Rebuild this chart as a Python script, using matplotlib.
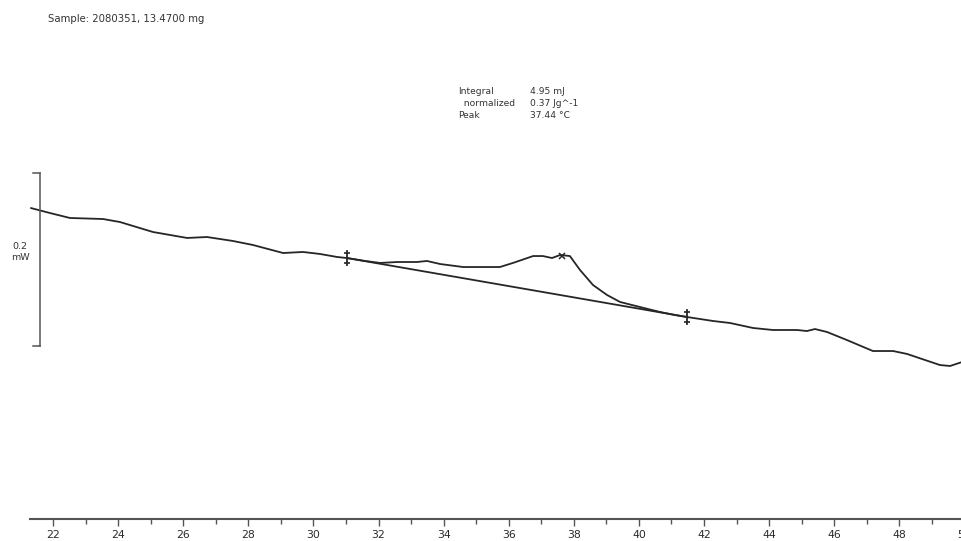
import matplotlib
matplotlib.use("Agg")
import matplotlib.pyplot as plt

# Heat-flow curve (temperature in degC, heat flow in mW, arbitrary offset)
temperature = [21.32, 21.91, 22.52, 23.54, 24.06, 25.07, 26.12, 26.73, 27.53, 28.14,
               29.07, 29.68, 30.20, 30.73, 31.03, 31.59, 32.05, 32.57, 33.18, 33.49,
               33.89, 34.60, 35.43, 35.73, 36.13, 36.75, 37.05, 37.33, 37.58, 37.88,
               38.19, 38.59, 39.02, 39.42, 40.03, 40.65, 41.11, 41.48, 42.28, 42.80,
               43.51, 44.12, 44.86, 45.16, 45.41, 45.78, 46.39, 47.19, 47.81, 48.24,
               48.79, 49.25, 49.56, 49.93]
heat_flow = [0.3595, 0.3537, 0.3480, 0.3468, 0.3433, 0.3318, 0.3249, 0.3260, 0.3214, 0.3168,
             0.3075, 0.3087, 0.3064, 0.3029, 0.3017, 0.2983, 0.2960, 0.2971, 0.2971, 0.2983,
             0.2948, 0.2913, 0.2913, 0.2913, 0.2960, 0.3040, 0.3040, 0.3017, 0.3052, 0.3040,
             0.2879, 0.2705, 0.2590, 0.2509, 0.2451, 0.2393, 0.2358, 0.2335, 0.2289, 0.2266,
             0.2208, 0.2185, 0.2185, 0.2173, 0.2196, 0.2162, 0.2069, 0.1942, 0.1942, 0.1908,
             0.1838, 0.1780, 0.1769, 0.1815]

# Integration limits and baseline
limit_temps = [31.03, 41.48]
limit_flows = [0.3017, 0.2335]
peak_temp = 37.65
peak_flow = 0.3045

# Scale bar (0.2 mW)
scale_bottom = 0.2
scale_top = 0.4
scale_x = 21.60

major_ticks = list(range(22, 52, 2))
minor_ticks = list(range(22, 51, 1))

sample_text = "Sample: 2080351, 13.4700 mg"
info_labels = ["Integral", "  normalized", "Peak"]
info_values = ["4.95 mJ", "0.37 Jg^-1", "37.44 \u00b0C"]

W, H = 962, 541
fig = plt.figure(figsize=(W / 100, H / 100), dpi=100)
fig.patch.set_facecolor("white")

x_left_px, x_right_px = 30, 971
bottom_px = 519
ax = fig.add_axes([x_left_px / W, (H - bottom_px) / H,
                   (x_right_px - x_left_px) / W, bottom_px / H])
ax.set_xlim(21.293, 50.203)
ax.set_ylim(0.0, 0.6)
ax.patch.set_alpha(0)

line_col = "#262626"
ax.plot(temperature, heat_flow, color=line_col, lw=1.3, solid_joinstyle="round",
        solid_capstyle="round", clip_on=False)
ax.plot(limit_temps, limit_flows, color=line_col, lw=1.3)

# integration limit markers
for t, f in zip(limit_temps, limit_flows):
    ax.plot([t, t], [f - 0.008, f + 0.008], color=line_col, lw=1.3)
    ax.plot([t], [f + 0.006], marker="_", ms=4, color=line_col, mew=1.2)
    ax.plot([t], [f - 0.006], marker="_", ms=4, color=line_col, mew=1.2)
# peak marker
ax.plot([peak_temp], [peak_flow], marker="x", ms=5, color=line_col, mew=1.1)

# scale bar
sb_col = "#555555"
ax.plot([scale_x, scale_x], [scale_bottom, scale_top], color=sb_col, lw=1.1, clip_on=False)
ax.plot([scale_x - 0.22, scale_x], [scale_top, scale_top], color=sb_col, lw=1.1, clip_on=False)
ax.plot([scale_x - 0.22, scale_x], [scale_bottom, scale_bottom], color=sb_col, lw=1.1, clip_on=False)
fig.text(20 / W, 1 - 252 / H, "0.2\nmW", ha="center", va="center", fontsize=6.8,
         color="#333333", linespacing=1.3)

# spines / ticks
for s in ["left", "right", "top"]:
    ax.spines[s].set_visible(False)
ax.spines["bottom"].set_color("#555555")
ax.spines["bottom"].set_linewidth(1.5)
ax.set_yticks([])
ax.set_xticks(major_ticks)
ax.set_xticks(minor_ticks, minor=True)
ax.tick_params(axis="x", which="major", direction="out", length=5, width=1.0,
               color="#555555", labelsize=7.8, labelcolor="#2a2a2a", pad=3)
ax.tick_params(axis="x", which="minor", direction="out", length=3.5, width=1.0,
               color="#555555")

# texts
fig.text(48 / W, 1 - 19 / H, sample_text, ha="left", va="center", fontsize=7.3,
         color="#333333")
for i, (lab, val) in enumerate(zip(info_labels, info_values)):
    y = 1 - (91 + 12 * i) / H
    fig.text(458 / W, y, lab, ha="left", va="center", fontsize=6.6, color="#333333")
    fig.text(530 / W, y, val, ha="left", va="center", fontsize=6.6, color="#333333")

fig.savefig("out.png", dpi=100, facecolor="white")
